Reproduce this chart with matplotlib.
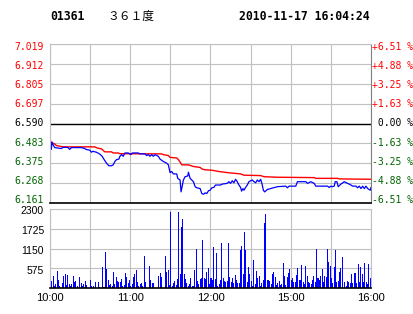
import matplotlib
matplotlib.use('Agg')
import matplotlib.pyplot as plt
import matplotlib.transforms as mtransforms
import numpy as np

# --- data (minutes since 10:00, lunch break removed) ---
t_price = [0, 1, 1.5, 2, 3.5, 8.5, 10, 13.5, 14.75, 16, 23.5, 26, 27, 29.75, 31, 32, 34.75, 37.25,
           39, 40.5, 42.25, 44, 46, 47.25, 48.5, 49.75, 51.5, 52.25, 53.5, 54.75, 56, 58.5, 60.5,
           61.5, 66, 67.25, 71, 72.25, 73.5, 74.75, 76, 77.25, 78.5, 81, 82.25, 84.75, 87.25, 88.5,
           89.75, 91, 92.25, 94.75, 95.5, 97.25, 98, 99, 99.75, 101, 103, 103.5, 104.75, 106, 107.25,
           108.5, 109.75, 112.25, 113.5, 114.75, 116, 117.25, 118.5, 119.75, 121, 122.5, 123.75,
           127.5, 128.75, 132.5, 133.75, 135, 136.25, 137.5, 138.75, 140, 141.25, 142.5, 143.25,
           144.25, 145, 146.25, 147.5, 148.75, 150, 151.25, 152.5, 153.75, 155, 156.25, 157.5,
           158.75, 159.5, 160.5, 162.5, 165, 170, 176.25, 177.5, 178.75, 183.75, 185, 191.25,
           192.5, 195, 197.5, 198.75, 207.5, 208.75, 210, 211.25, 212.5, 213.25, 214.5, 215.5,
           217.5, 220, 222.5, 225, 226.25, 228.75, 230, 231.25, 232.5, 233.75, 235, 236.25, 237.5,
           239.5, 240]
price = [6.500, 6.450, 6.490, 6.480, 6.460, 6.455, 6.462, 6.460, 6.450, 6.460, 6.460, 6.455, 6.450,
         6.446, 6.435, 6.440, 6.435, 6.425, 6.413, 6.395, 6.376, 6.362, 6.362, 6.367, 6.385, 6.395,
         6.398, 6.413, 6.422, 6.413, 6.431, 6.431, 6.422, 6.431, 6.431, 6.426, 6.426, 6.417, 6.422,
         6.413, 6.422, 6.413, 6.422, 6.413, 6.398, 6.385, 6.376, 6.367, 6.325, 6.331, 6.318, 6.318,
         6.294, 6.285, 6.221, 6.258, 6.285, 6.303, 6.307, 6.327, 6.294, 6.285, 6.276, 6.249, 6.243,
         6.239, 6.212, 6.208, 6.216, 6.212, 6.227, 6.230, 6.243, 6.245, 6.258, 6.258, 6.263, 6.267,
         6.276, 6.267, 6.281, 6.270, 6.289, 6.276, 6.258, 6.245, 6.225, 6.239, 6.230, 6.245, 6.258,
         6.276, 6.281, 6.285, 6.276, 6.270, 6.285, 6.276, 6.289, 6.258, 6.230, 6.221, 6.234, 6.239,
         6.249, 6.252, 6.243, 6.252, 6.252, 6.276, 6.276, 6.267, 6.276, 6.267, 6.252, 6.252, 6.245,
         6.252, 6.249, 6.252, 6.276, 6.276, 6.249, 6.263, 6.276, 6.267, 6.258, 6.252, 6.252, 6.243,
         6.252, 6.239, 6.252, 6.239, 6.252, 6.239, 6.230, 6.245]

t_avg = [0, 1, 3.5, 4.75, 10, 33.5, 34.75, 38.5, 41, 46, 47.25, 51, 52.25, 83.5, 84.75, 88.5, 89.75,
         94.75, 96, 97.25, 98.5, 103.5, 107.25, 112.25, 113.5, 116, 121, 122.5, 126.25, 132.5,
         142.5, 145, 157.5, 160, 170, 197.5, 198.75, 215, 216.25, 240]
avg = [6.504, 6.486, 6.480, 6.471, 6.464, 6.464, 6.459, 6.453, 6.437, 6.437, 6.431, 6.431, 6.427,
       6.426, 6.422, 6.417, 6.407, 6.404, 6.395, 6.382, 6.367, 6.367, 6.358, 6.353, 6.345, 6.340,
       6.338, 6.336, 6.331, 6.325, 6.318, 6.311, 6.309, 6.303, 6.300, 6.298, 6.294, 6.294, 6.291,
       6.289]

vol = [340, 195, 340, 70, 125, 505, 235, 70, 0, 145, 340, 415, 95, 390, 115, 70, 125, 360, 165, 215,
       70, 0, 330, 145, 70, 115, 215, 95, 0, 0, 245, 70, 70, 0, 165, 0, 185, 40, 0, 620,
       40, 1060, 560, 245, 85, 115, 70, 475, 115, 330, 215, 165, 165, 270, 70, 95, 445, 310, 145, 235,
       70, 125, 320, 415, 535, 165, 70, 115, 145, 70, 920, 165, 0, 0, 630, 245, 155, 135, 0, 0,
       0, 340, 445, 320, 0, 0, 920, 455, 535, 95, 2200, 70, 145, 205, 85, 270, 2200, 400, 1785, 2020,
       400, 270, 145, 70, 115, 300, 70, 70, 535, 1150, 195, 115, 270, 300, 1390, 280, 270, 475, 590, 115,
       300, 245, 1200, 270, 1030, 70, 115, 245, 1320, 300, 205, 185, 205, 1320, 330, 165, 300, 145, 390,
       245, 145, 145, 1115, 1230, 405, 1640, 1115, 185, 620, 415, 205, 70, 825, 115, 495, 300, 360,
       70, 145, 245, 1900, 2155, 245, 245, 205, 125, 405, 475, 330, 95, 135, 205, 95, 115, 740, 360,
       95, 310, 445, 560, 245, 300, 165, 175, 390, 590, 245, 245, 680, 165, 115, 650, 360, 185, 135,
       115, 245, 340, 165, 1150, 280, 245, 340, 545, 185, 340, 310, 1150, 765, 650, 280, 135, 620,
       1115, 165, 205, 475, 590, 890, 0, 185, 70, 205, 185, 135, 415, 135, 445, 445, 135, 710, 185,
       620, 415, 165, 740, 185, 115, 710, 300, 115]

prev_close = 6.590
price_ticks = [7.019, 6.912, 6.805, 6.697, 6.590, 6.483, 6.375, 6.268, 6.161]
pct_labels = ['+6.51 %', '+4.88 %', '+3.25 %', '+1.63 %', ' 0.00 %',
              '-1.63 %', '-3.25 %', '-4.88 %', '-6.51 %']
vol_ticks = [575, 1150, 1725, 2300]
time_ticks = [0, 60, 120, 180, 240]
time_labels = ['10:00', '11:00', '12:00', '15:00', '16:00']

RED = '#ff0000'
GREEN = '#006400'
GRID = '#c0c0c0'
MONO = 'DejaVu Sans Mono'
SANS = 'Liberation Sans'

fig = plt.figure(figsize=(4.14, 3.14), dpi=100)
fig.patch.set_facecolor('white')

# header
fig.text(50 / 414, 1 - 16 / 314, '01361', family=MONO, weight='bold', size=8.3, va='center')
fig.text(107 / 414, 1 - 16 / 314, '３６１度', family=['Noto Sans CJK SC', 'DejaVu Sans'],
         size=8.5, va='center')
fig.text(370 / 414, 1 - 16 / 314, '2010-11-17 16:04:24', family=MONO, weight='bold', size=8.3,
         va='center', ha='right')


def label_color(i):
    if i < 4:
        return RED
    if i == 4:
        return 'black'
    return GREEN


# price panel
ax = fig.add_axes([50 / 414, 1 - 203 / 314, 321 / 414, 159 / 314])
ax.set_xlim(0, 240)
ax.set_ylim(price_ticks[-1], price_ticks[0])
ax.set_xticks(np.arange(0, 241, 30))
ax.set_yticks(price_ticks)
ax.grid(True, color=GRID, lw=0.8)
ax.axhline(prev_close, color='black', lw=1.0)
ax.plot(t_avg, avg, color=RED, lw=1.0)
ax.plot(t_price, price, color='#0000ff', lw=0.9)
ax.set_xticklabels([])
ax.set_yticklabels([])
ax.tick_params(axis='both', length=0)
for s in ['left', 'top']:
    ax.spines[s].set_color(GRID)
ax.spines['right'].set_color('#808080')
ax.spines['bottom'].set_color('black')
ax.spines['bottom'].set_linewidth(1.2)

# labels sit on a slightly tighter pitch than the grid (first 2.7px below top, last 3px above bottom)
n = len(price_ticks)
for i, (p, pl) in enumerate(zip(price_ticks, pct_labels)):
    ypx = 2.7 + i * (159 - 5.7) / (n - 1)
    yf = 1 - ypx / 159
    ax.text(-6 / 321, yf, '%.3f' % p, transform=ax.transAxes, ha='right', va='center',
            family=MONO, size=7, color=label_color(i))
    ax.text(1 + 1 / 321, yf, pl, transform=ax.transAxes, ha='left', va='center',
            family=MONO, size=7, color=label_color(i), clip_on=False)

# volume panel
axv = fig.add_axes([50 / 414, 1 - 288 / 314, 321 / 414, 79 / 314])
axv.bar(np.arange(len(vol)), vol, width=0.75, color='#0000ff', linewidth=0, align='edge')
axv.set_xlim(0, 240)
axv.set_ylim(0, 2300)
axv.set_xticks(np.arange(0, 241, 30))
axv.set_yticks([0] + vol_ticks)
axv.set_yticklabels([])
axv.grid(True, color=GRID, lw=0.8)
axv.set_axisbelow(True)
axv.tick_params(axis='both', length=0)
axv.set_xticklabels([])
for s in ['left', 'top', 'right']:
    axv.spines[s].set_color(GRID)
axv.spines['bottom'].set_color('black')
axv.spines['bottom'].set_linewidth(1.2)

down = mtransforms.offset_copy(axv.get_yaxis_transform(), fig=fig, x=0, y=-2.5, units='dots')
for v in vol_ticks:
    axv.text(-6 / 321, v, str(v), transform=down, ha='right', va='center', family=SANS, size=7.5)

for t, lab in zip(time_ticks, time_labels):
    axv.text(t, -0.13, lab, transform=axv.get_xaxis_transform(), ha='center', va='center',
             family=SANS, size=8)

fig.savefig('out.png', dpi=100, facecolor='white')
